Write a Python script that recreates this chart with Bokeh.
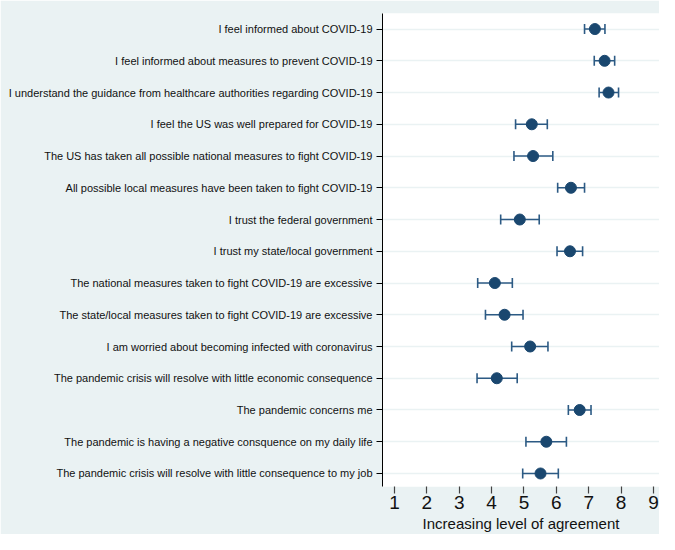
from bokeh.plotting import figure
from bokeh.models import ColumnDataSource, Range1d, FixedTicker, Whisker, TeeHead
from bokeh.embed import file_html
from bokeh.resources import INLINE

labels = [
    "I feel informed about COVID-19",
    "I feel informed about measures to prevent COVID-19",
    "I understand the guidance from healthcare authorities regarding COVID-19",
    "I feel the US was well prepared for COVID-19",
    "The US has taken all possible national measures to fight COVID-19",
    "All possible local measures have been taken to fight COVID-19",
    "I trust the federal government",
    "I trust my state/local government",
    "The national measures taken to fight COVID-19 are excessive",
    "The state/local measures taken to fight COVID-19 are excessive",
    "I am worried about becoming infected with coronavirus",
    "The pandemic crisis will resolve with little economic consequence",
    "The pandemic concerns me",
    "The pandemic is having a negative consquence on my daily life",
    "The pandemic crisis will resolve with little consequence to my job",
]
means = [7.19, 7.49, 7.61, 5.24, 5.28, 6.45, 4.87, 6.42, 4.10, 4.40, 5.19, 4.16, 6.72, 5.69, 5.51]
lower = [6.87, 7.17, 7.32, 4.74, 4.69, 6.04, 4.28, 6.02, 3.57, 3.81, 4.62, 3.55, 6.37, 5.06, 4.96]
upper = [7.50, 7.80, 7.92, 5.72, 5.89, 6.87, 5.47, 6.81, 4.64, 4.97, 5.74, 4.79, 7.07, 6.31, 6.06]
x_ticks = [1, 2, 3, 4, 5, 6, 7, 8, 9]
x_title = "Increasing level of agreement"

n = len(labels)
ypos = [n - i for i in range(n)]

src = ColumnDataSource(dict(y=ypos, m=means, lo=lower, hi=upper))

FONT = "Liberation Sans"
NAVY = "#1a476f"
BG = "#eaf2f3"

p = figure(width=659, height=534, output_backend="svg", toolbar_location=None,
           x_range=Range1d(0.63, 9.185), y_range=Range1d(0.59, n + 0.49),
           min_border_left=382, min_border_right=0, min_border_top=13, min_border_bottom=0)
p.border_fill_color = BG
p.background_fill_color = "white"
p.outline_line_color = None

# grid
p.xgrid.grid_line_color = None
p.ygrid.ticker = FixedTicker(ticks=ypos)
p.ygrid.grid_line_color = BG
p.ygrid.grid_line_width = 1.5

# y axis
p.yaxis.ticker = FixedTicker(ticks=ypos)
p.yaxis.major_label_overrides = {y: lab for y, lab in zip(ypos, labels)}
p.yaxis.axis_line_color = "black"
p.yaxis.axis_line_width = 1
p.yaxis.major_tick_line_color = "black"
p.yaxis.major_tick_out = 6
p.yaxis.major_tick_in = 0
p.yaxis.minor_tick_line_color = None
p.yaxis.major_label_standoff = 4
p.yaxis.major_label_text_font = FONT
p.yaxis.major_label_text_font_size = "11px"
p.yaxis.major_label_text_color = "#111111"

# x axis
p.xaxis.ticker = FixedTicker(ticks=x_ticks)
p.xaxis.axis_line_color = None
p.xaxis.major_tick_line_color = "#444444"
p.xaxis.major_tick_line_width = 1.2
p.xaxis.major_tick_out = 7
p.xaxis.major_tick_in = 0
p.xaxis.minor_tick_line_color = None
p.xaxis.major_label_standoff = 2
p.xaxis.major_label_text_font = FONT
p.xaxis.major_label_text_font_size = "19px"
p.xaxis.major_label_text_color = "#111111"
p.xaxis.axis_label = x_title
p.xaxis.axis_label_text_font = FONT
p.xaxis.axis_label_text_font_size = "15px"
p.xaxis.axis_label_text_font_style = "normal"
p.xaxis.axis_label_text_color = "#111111"
p.xaxis.axis_label_standoff = 3

# error bars
wcol = "#2c5a84"
w = Whisker(source=src, base="y", lower="lo", upper="hi", dimension="width",
            line_color=wcol, line_width=1.6,
            upper_head=TeeHead(size=10, line_color=wcol, line_width=1.6),
            lower_head=TeeHead(size=10, line_color=wcol, line_width=1.6))
p.add_layout(w)

p.scatter(x="m", y="y", source=src, size=11, fill_color=NAVY, line_color=NAVY)

open("out.html", "w").write(file_html(p, INLINE))
